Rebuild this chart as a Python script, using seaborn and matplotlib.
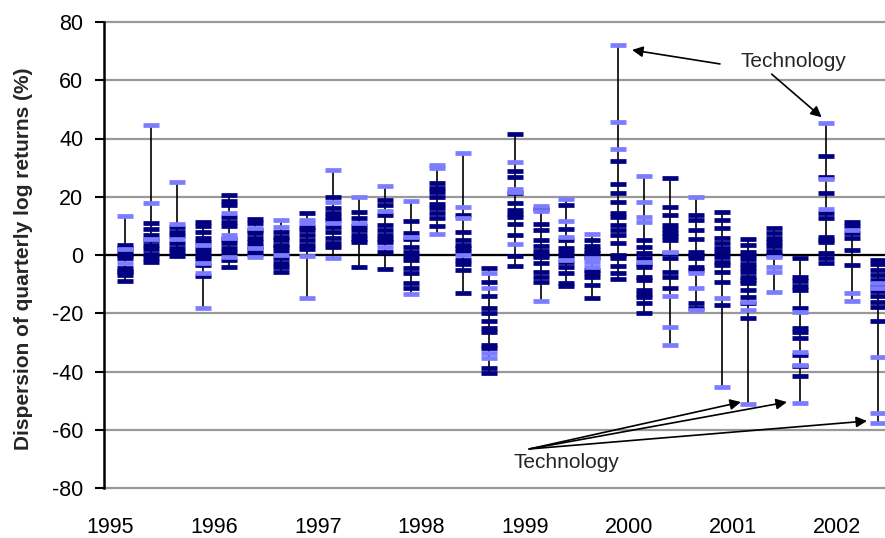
import numpy as np
import pandas as pd
import matplotlib.pyplot as plt
import seaborn as sns

# quarterly sector log returns (%)
quarters = [f"{y}Q{q}" for y in range(1995, 2003) for q in range(1, 5)][:30]

dark_returns = [
    [3.5, 2.5, 1, 0, -1, -4.5, -5.5, -7, -9, -6],
    [11, 9, 7, 5, 3.5, 2, 0.5, -1, -2.5],
    [9.5, 8, 6.5, 4, 2.5, 1, -0.3],
    [11.5, 10, 8, 6, 4.5, 2.5, 1, -0.5, -1.5, -3.5, -7.2],
    [20.6, 18.5, 17, 13, 11.5, 10, 5.5, 4, 2.5, 1, -1.7, -4],
    [12.5, 11, 8.6, 7.5, 5.8, 4.5, 3, 1.7, 0.5],
    [8, 6.2, 5, 3.5, 2.7, 1.5, -1, -2.7, -4.2, -5.8],
    [14.5, 9.7, 8.5, 7, 5.2, 3.4, 2],
    [20, 16, 14.5, 13, 12, 9.7, 8, 6, 4, 2.7],
    [14.8, 12.6, 10, 8.5, 7, 5.5, 4.5, -4],
    [19, 17, 13.7, 10.3, 8.5, 7, 5.5, 4.5, 1, -4.8],
    [11.7, 7.5, 5.5, 2.7, 1, -0.5, -1.7, -4.5, -6.3, -9.7, -11.3],
    [24.7, 23, 21.5, 20, 17.5, 16, 14.4, 12.6, 10],
    [13.7, 8, 5, 3.5, 2.4, 1, -1.7, -3, -5, -13],
    [-4.5, -9.2, -14, -18.2, -20, -22.7, -25, -26.4, -31, -32, -38.8, -40.5],
    [41.5, 28.8, 26.8, 21.3, 17.8, 15.5, 14.2, 13, 10.6, 6.9, -0.3, -3.8],
    [15.8, 10.6, 8.6, 5, 3, 1.5, 0, -0.7, -2.7, -5.7, -7.5, -9.2],
    [17.2, 8.9, 5.2, 2.4, 1, -0.5, -2.5, -4, -6.2, -9.6, -10.6],
    [5.2, 3, 1.7, 0.7, -0.7, -5.1, -6.3, -7.5, -10.3, -14.8],
    [32.3, 24.3, 21.2, 18.1, 14.3, 13, 10.3, 8.6, 6.9, 4.1, 0, -1, -3.8, -6.3, -8.3],
    [5.2, 2.7, 0.7, -1, -3, -4, -7.5, -8.6, -12, -13.5, -14.4, -16.5, -19.9],
    [26.4, 16.5, 13.7, 10.3, 9, 7.5, 6.5, 5.2, 0.7, -1, -5.7, -7.5, -11.3],
    [13.7, 12, 8.6, 5.5, 1, 0, -1, -4, -5.1, -16.5, -18.2],
    [14.8, 12, 9.2, 5.8, 4.1, 2.5, 1, -0.7, -2.4, -3.4, -5.8, -9.2, -17.2],
    [5.5, 3.4, 1, 0, -1.5, -3, -4.5, -6, -7.5, -8.5, -9.6, -12, -14.4, -16.5, -21.6],
    [9.2, 7.5, 6, 4.5, 3, 1.5, 0],
    [-1, -7.5, -9, -10.5, -12, -18.2, -25, -26.5, -28.5, -34.3, -38.1, -41.5],
    [34, 26.8, 21.3, 14.4, 12.6, 6.2, 5.2, 4.5, 0.7, -1, -2.7],
    [11.3, 10, 7.5, 6, 1.7, -3.6],
    [-1.7, -3, -5, -7, -8.5, -10.5, -12.5, -14, -16, -17.9, -22.7],
]

light_returns = [
    [13.4, 2, -2.7],
    [44.6, 17.9, 5.5],
    [25, 10.6, 5.5],
    [3.4, -2.8, -6.3, -18.2],
    [14.3, 7, 6, -0.6],
    [9.2, 2.4, -0.8],
    [12, 9.7, 0],
    [12, 11, -0.3, -14.8],
    [29.2, 18.2, 11, -1],
    [20, 11],
    [23.7, 15.1, 2.7],
    [18.5, 6.2, -13.4],
    [30.9, 30, 7.2],
    [35, 16.4, 12.6, 0],
    [-6.3, -11.3, -33.6, -35.4],
    [31.8, 22.7, 21.5, 3.8],
    [16.8, 15.1, -15.8],
    [19.2, 11.7, 6.2, -1.7],
    [7.2, -1, -2.5, -4],
    [72.1, 45.6, 36.4],
    [27.2, 18.1, 13, 11.3, -2.4],
    [1, -14, -24.6, -30.9],
    [20, -6.3, -11.4, -18.9],
    [-14.8, -45.3],
    [-16.1, -18.9, -51.2],
    [-0.6, -4, -5.7, -12.7],
    [-19.6, -33.3, -37.8, -50.8],
    [45.3, 26, 15.8],
    [8.6, -13.1, -15.8],
    [-9.6, -11.3, -35, -54.3, -57.7],
]

years = list(range(1995, 2003))
y_ticks = list(range(-80, 81, 20))

rows = []
for qtr, dk, lt in zip(quarters, dark_returns, light_returns):
    pos = int(qtr[:4]) + (int(qtr[-1]) - 1) / 4 + 0.145
    for v in dk:
        rows.append((qtr, pos, v, "dark"))
    for v in lt:
        rows.append((qtr, pos, v, "light"))
df = pd.DataFrame(rows, columns=["quarter", "pos", "ret", "group"])

sns.set_theme(style="white")
plt.rcParams["font.family"] = ["Liberation Sans", "DejaVu Sans"]
plt.rcParams["axes.unicode_minus"] = False

fig = plt.figure(figsize=(8.85, 5.38), dpi=100)
ax = fig.add_axes([104 / 885, 50 / 538, 781 / 885, 466 / 538])

# high-low range per quarter
rng = df.groupby("pos")["ret"].agg(["min", "max"]).reset_index()
ax.vlines(rng["pos"], rng["min"], rng["max"], color="black", lw=1.2, zorder=2)

ax.axhline(0, color="black", lw=1.6, zorder=1.5)

sns.scatterplot(data=df[df.group == "dark"], x="pos", y="ret", marker="_",
                s=118, linewidth=3.4, color="#000080", legend=False, ax=ax, zorder=3)
sns.scatterplot(data=df[df.group == "light"], x="pos", y="ret", marker="_",
                s=118, linewidth=3.4, color="#7C7CFF", legend=False, ax=ax, zorder=4)

ax.set_xlim(1994.942, 2002.462)
ax.set_ylim(-80, 80)
ax.set_yticks(y_ticks)
ax.set_xticks(years)
ax.set_xticklabels([str(y) for y in years])
ax.set_xlabel("")
ax.set_ylabel("Dispersion of quarterly log returns (%)", fontsize=15, fontweight="bold")
ax.yaxis.set_label_coords(-0.091, 0.491)

ax.yaxis.grid(True, color="#999999", lw=1.6)
ax.xaxis.grid(False)
for gl in ax.yaxis.get_gridlines():
    gl.set_clip_on(False)
for s in ["top", "right", "bottom"]:
    ax.spines[s].set_visible(False)
ax.spines["left"].set_color("black")
ax.spines["left"].set_linewidth(1.8)
ax.spines["left"].set_zorder(5)

ax.tick_params(axis="y", left=True, length=6.5, width=1.5, direction="out",
               pad=8.5, labelsize=15.5, color="black", labelcolor="black")
ax.tick_params(axis="x", length=0, pad=21, labelsize=15.5, labelcolor="black")

# annotations
arrow = dict(arrowstyle="-|>", color="black", lw=1.2, mutation_scale=16,
             shrinkA=0, shrinkB=0)
ax.text(2001.576, 66.6, "Technology", fontsize=15, ha="center", va="center")
ax.annotate("", xy=(2000.026, 70.4), xytext=(2000.873, 65.6), arrowprops=arrow)
ax.annotate("", xy=(2001.852, 47.3), xytext=(2001.371, 62.1), arrowprops=arrow)

ax.text(1999.390, -71.1, "Technology", fontsize=15, ha="center", va="center")
for hx, hy in [(2001.075, -50.5), (2001.518, -50.5), (2002.289, -57.0)]:
    ax.annotate("", xy=(hx, hy), xytext=(1999.036, -66.6), arrowprops=arrow)

fig.savefig("out.png", dpi=100)
